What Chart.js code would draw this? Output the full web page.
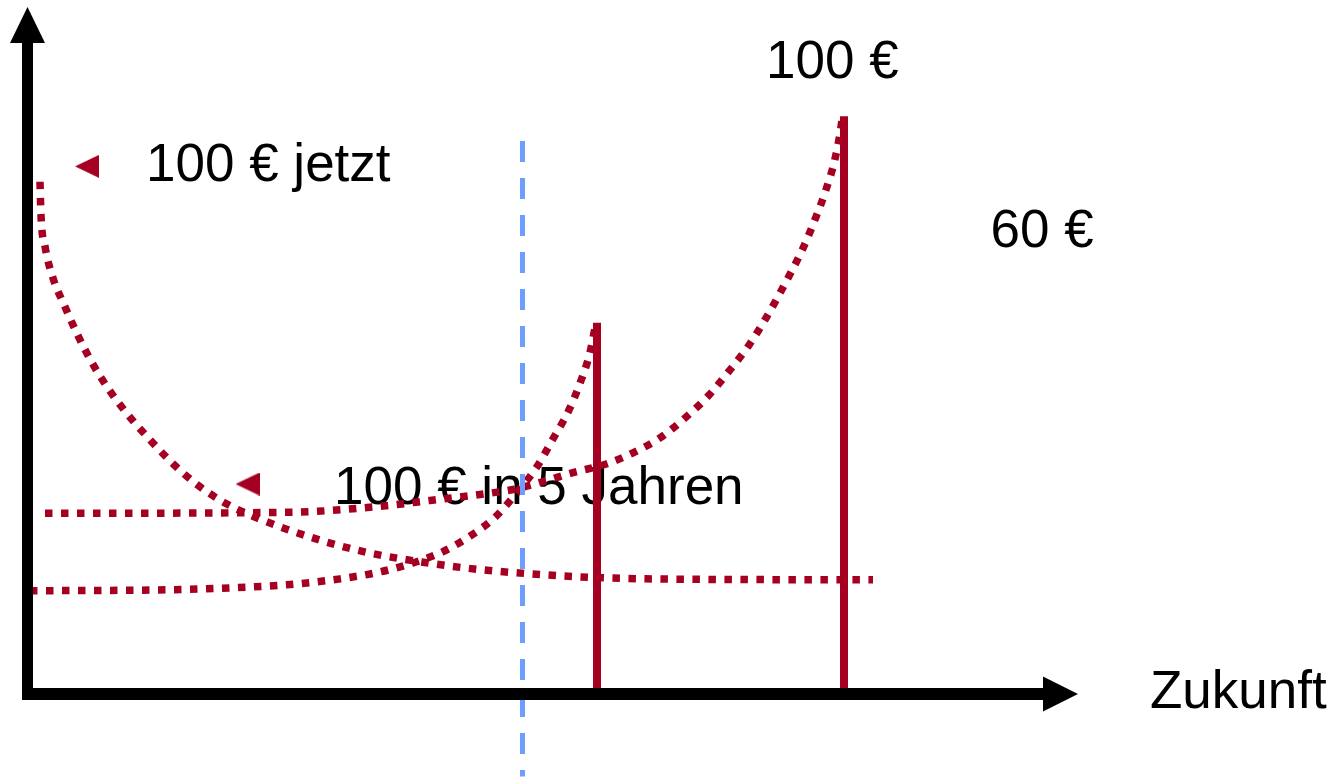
<!DOCTYPE html>
<html lang="de">
<head>
<meta charset="UTF-8">
<title>Barwert – 100 € jetzt oder in 5 Jahren</title>
<script src="https://cdn.jsdelivr.net/npm/chart.js"></script>
<style>
    html, body { margin: 0; padding: 0; background: #fff; }
    #wrap { width: 1335px; height: 779px; }
</style>
</head>
<body>
<div id="wrap"><canvas id="pv"></canvas></div>
<script>
// --- data (x = Zeit, y = Wert, in chart units) ---
const decayX = [1.2, 1.3, 1.7, 2.5, 3.7, 5.0, 6.5, 8.2, 10.1, 12.2, 14.5, 16.9, 19.6, 22.5, 29.2, 34.2, 40.7, 45.5, 50.3, 55.2, 61.8, 84.5];
const decayY = [51.6, 48.2, 45.1, 41.9, 39.0, 36.1, 33.2, 30.5, 28.0, 25.6, 23.2, 21.1, 19.3, 17.9, 15.5, 14.2, 13.1, 12.5, 12.1, 11.8, 11.6, 11.5];

const slowX = [1.7, 25.9, 35.2, 40.2, 45.2, 48.5, 51.5, 54.5, 57.9, 60.5, 63.2, 65.7, 68.0, 70.0, 72.0, 73.7, 76.0, 77.5, 78.7, 79.8, 80.7, 81.3, 81.4];
const slowY = [18.2, 18.3, 18.9, 19.5, 20.1, 20.6, 21.4, 22.3, 23.2, 24.3, 25.8, 27.8, 30.0, 32.4, 35.0, 37.7, 41.9, 44.9, 47.8, 50.8, 53.9, 57.1, 57.9];

const fastX = [0.2, 13.9, 20.5, 25.9, 31.2, 35.2, 38.5, 41.4, 44.2, 46.7, 48.9, 50.9, 52.5, 54.0, 55.2, 56.2, 56.7];
const fastY = [10.4, 10.5, 10.7, 11.0, 11.6, 12.3, 13.2, 14.3, 15.9, 17.8, 20.3, 22.9, 25.7, 28.4, 31.3, 34.4, 36.9];

const barX = [56.9, 81.6];
const barTop = [37.4, 58.2];

const todayX = 49.45;
const todayFrom = 55.7;
const todayTo = -8.3;

const markerX = [5.9, 21.95];
const markerY = [53.15, 21.15];

const labelText = ['100 €', '100 € jetzt', '60 €', '100 € in 5 Jahren', 'Zukunft'];
const labelX = [73.8, 11.8, 96.25, 30.6, 112.2];
const labelY = [62.1, 51.7, 45.0, 19.15, -1.4];

const RED = '#a50021';
const BLUE = '#6d9eff';

function pts(xs, ys) { return xs.map((x, i) => ({ x: x, y: ys[i] })); }

// left-pointing triangle used as point marker
const tri = document.createElement('canvas');
tri.width = 24; tri.height = 23;
(function () {
    const c = tri.getContext('2d');
    c.fillStyle = RED;
    c.beginPath();
    c.moveTo(0, 11.5);
    c.lineTo(24, 0);
    c.lineTo(24, 23);
    c.closePath();
    c.fill();
})();

const curve = (xs, ys) => ({
    data: pts(xs, ys),
    showLine: true,
    borderColor: RED,
    borderWidth: 7.5,
    borderDash: [7.5, 8.5],
    pointRadius: 0,
    cubicInterpolationMode: 'monotone',
    fill: false
});

const datasets = [
    {
        data: pts(markerX, markerY),
        pointStyle: tri,
        pointRadius: 12,
        showLine: false
    },
    ...barX.map((x, i) => ({
        data: [{ x: x, y: 0 }, { x: x, y: barTop[i] }],
        showLine: true,
        borderColor: RED,
        borderWidth: 8,
        pointRadius: 0
    })),
    {
        data: [{ x: todayX, y: todayFrom }, { x: todayX, y: todayTo }],
        showLine: true,
        borderColor: BLUE,
        borderWidth: 5,
        borderDash: [21, 16],
        pointRadius: 0,
        clip: false
    },
    curve(slowX, slowY),
    curve(fastX, fastY),
    curve(decayX, decayY)
];

const textLayer = {
    id: 'textLayer',
    beforeDatasetsDraw(chart) {
        const { ctx, scales: { x, y } } = chart;
        ctx.save();
        ctx.fillStyle = '#000';
        ctx.font = '53px "Liberation Sans", Arial, sans-serif';
        ctx.textAlign = 'left';
        ctx.textBaseline = 'alphabetic';
        labelText.forEach((t, i) => {
            ctx.fillText(t, x.getPixelForValue(labelX[i]), y.getPixelForValue(labelY[i]));
        });
        ctx.restore();
    }
};

// black axes with arrow heads, drawn on top
const arrowAxes = {
    id: 'arrowAxes',
    afterDatasetsDraw(chart) {
        const { ctx, scales: { x, y } } = chart;
        const ox = x.getPixelForValue(0) - 0.5;
        const oy = y.getPixelForValue(0);
        ctx.save();
        ctx.fillStyle = '#000';
        // y axis
        ctx.fillRect(ox - 5.5, 43, 11, oy + 6 - 43);
        ctx.beginPath();
        ctx.moveTo(ox, 7);
        ctx.lineTo(ox + 17.5, 43);
        ctx.lineTo(ox - 17.5, 43);
        ctx.closePath();
        ctx.fill();
        // x axis
        ctx.fillRect(ox - 5.5, oy - 6, 1043 - (ox - 5.5), 12);
        ctx.beginPath();
        ctx.moveTo(1078, oy);
        ctx.lineTo(1043, oy - 17.5);
        ctx.lineTo(1043, oy + 17.5);
        ctx.closePath();
        ctx.fill();
        ctx.restore();
    }
};

new Chart(document.getElementById('pv'), {
    type: 'scatter',
    data: { datasets: datasets },
    options: {
        responsive: true,
        maintainAspectRatio: false,
        animation: false,
        layout: { padding: { left: 28, right: 257, top: 8, bottom: 85 } },
        plugins: {
            legend: { display: false },
            tooltip: { enabled: false },
            title: { display: false }
        },
        scales: {
            x: { type: 'linear', min: 0, max: 105, display: false },
            y: { type: 'linear', min: 0, max: 68.6, display: false }
        }
    },
    plugins: [textLayer, arrowAxes]
});
</script>
</body>
</html>
